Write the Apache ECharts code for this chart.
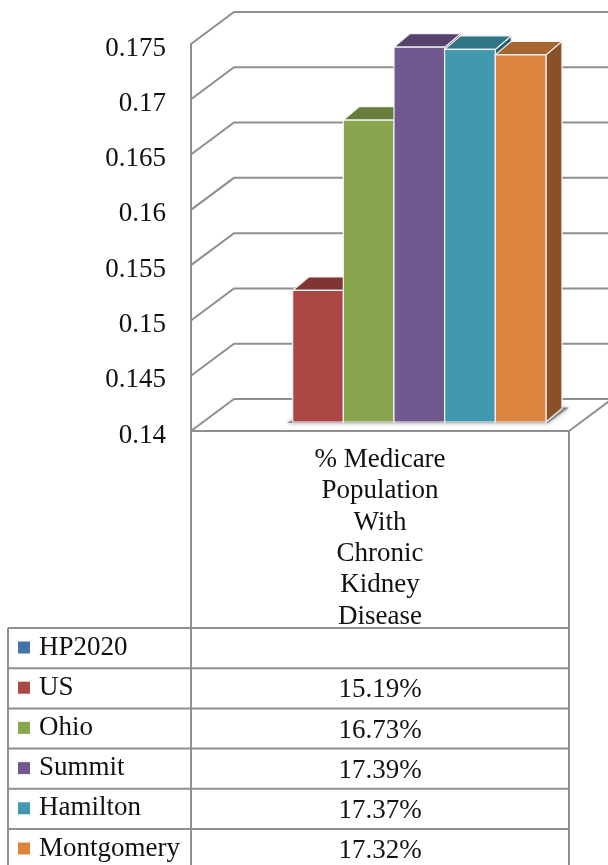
<!DOCTYPE html>
<html>
<head>
<meta charset="utf-8">
<style>
  html, body { margin: 0; padding: 0; background: #fff; }
  #chart { width: 608px; height: 865px; }
</style>
<script src="https://cdn.jsdelivr.net/npm/echarts@6/dist/echarts.min.js"></script>
</head>
<body>
<div id="chart"></div>
<script>
var category = '% Medicare\nPopulation\nWith\nChronic\nKidney\nDisease';
var seriesNames = ['HP2020', 'US', 'Ohio', 'Summit', 'Hamilton', 'Montgomery'];
var seriesValues = [null, 0.1519, 0.1673, 0.1739, 0.1737, 0.1732];
var seriesColors = ['#4572A7', '#AA4643', '#89A54E', '#71588F', '#4198AF', '#DB843D'];
var tableLabels = ['', '15.19%', '16.73%', '17.39%', '17.37%', '17.32%'];
var yTicks = [0.14, 0.145, 0.15, 0.155, 0.16, 0.165, 0.17, 0.175];

var FONT = '"Liberation Serif", serif';
var LINE = '#8f8f8f';

// plot frame
var plotLeft = 191, plotRight = 569, plotTop = 44, floorY = 431;
// pseudo 3d depth
var wallDx = 43, wallDy = -32;
var barDx = 14, barDy = -9, depthDx = 16, depthDy = -13.5;

// table
var tableLeft = 8, rowTop = 628, rowH = 40.2;

var chart = echarts.init(document.getElementById('chart'));

// darker tone of a colour for the side faces
function shade(color, k) {
    var c = echarts.color.parse(color);
    return 'rgb(' + Math.round(c[0] * k) + ',' + Math.round(c[1] * k) + ',' + Math.round(c[2] * k) + ')';
}

function renderWall(params, api) {
    var p = api.coord([0, api.value(0)]);
    var y = p[1];
    return {
        type: 'polyline',
        shape: { points: [[plotLeft, y], [plotLeft + wallDx, y + wallDy], [plotRight + wallDx, y + wallDy]] },
        style: { fill: null, stroke: LINE, lineWidth: 2 },
        silent: true
    };
}

function renderFloor(params, api) {
    return {
        type: 'line',
        shape: { x1: plotRight, y1: floorY, x2: plotRight + wallDx, y2: floorY + wallDy },
        style: { stroke: LINE, lineWidth: 2 },
        silent: true
    };
}

function renderShadow(params, api) {
    var c = api.coord([0, yTicks[0]]);
    var slot = api.size([1, 0])[0] * 0.134;
    var x0 = c[0] + barDx - slot * 3 + slot;
    var x1 = c[0] + barDx + slot * 3;
    var y = c[1] + barDy;
    return {
        type: 'polygon',
        shape: { points: [[x0 - 6, y + 1], [x1 + 2, y + 1], [x1 + depthDx + 7, y + depthDy - 1], [x1 + depthDx, y + depthDy - 1], [x0, y - 2]] },
        style: { fill: '#8a8a8a', shadowBlur: 4, shadowColor: 'rgba(0,0,0,0.4)' },
        silent: true
    };
}

function renderBar(params, api) {
    var idx = params.seriesIndex - 3;
    var base = api.coord([0, yTicks[0]]);
    var topPt = api.coord([0, api.value(1)]);
    var slot = api.size([1, 0])[0] * 0.134;
    var x0 = base[0] + barDx + (idx - 3) * slot;
    var x1 = x0 + slot;
    var yb = base[1] + barDy;
    var yt = topPt[1] + barDy;
    var color = seriesColors[idx];
    var edge = { stroke: '#f4f1f6', lineWidth: 1.2 };
    return {
        type: 'group',
        children: [
            {
                type: 'polygon',
                shape: { points: [[x1, yb], [x1 + depthDx, yb + depthDy], [x1 + depthDx, yt + depthDy], [x1, yt]] },
                style: Object.assign({ fill: shade(color, 0.62) }, edge)
            },
            {
                type: 'polygon',
                shape: { points: [[x0, yt], [x1, yt], [x1 + depthDx, yt + depthDy], [x0 + depthDx, yt + depthDy]] },
                style: Object.assign({ fill: shade(color, 0.76) }, edge)
            },
            {
                type: 'rect',
                shape: { x: x0, y: yt, width: slot, height: yb - yt },
                style: Object.assign({ fill: color }, edge)
            }
        ]
    };
}

function tableGraphics() {
    var out = [];
    var bottom = 880;
    function line(x1, y1, x2, y2) {
        out.push({
            type: 'line',
            shape: { x1: x1, y1: y1, x2: x2, y2: y2 },
            style: { stroke: LINE, lineWidth: 2 },
            silent: true
        });
    }
    line(plotLeft, floorY, plotLeft, bottom);
    line(plotRight, floorY, plotRight, bottom);
    line(tableLeft, rowTop, tableLeft, bottom);
    seriesNames.forEach(function (name, i) {
        var y = rowTop + i * rowH;
        line(tableLeft, y, plotRight, y);
        out.push({
            type: 'text',
            x: (plotLeft + plotRight) / 2,
            y: y + rowH / 2 + 2,
            style: {
                text: tableLabels[i],
                font: '27px ' + FONT,
                fill: '#111',
                align: 'center',
                verticalAlign: 'middle'
            },
            silent: true
        });
    });
    return out;
}

var barSeries = seriesNames.map(function (name, i) {
    return {
        name: name,
        type: 'custom',
        renderItem: renderBar,
        encode: { x: 0, y: 1 },
        itemStyle: { color: seriesColors[i] },
        data: seriesValues[i] === null ? [] : [[0, seriesValues[i]]],
        z: 4
    };
});

var option = {
    animation: false,
    backgroundColor: '#fff',
    textStyle: { fontFamily: FONT },
    grid: { left: plotLeft, top: plotTop, width: plotRight - plotLeft, height: floorY - plotTop },
    legend: {
        data: seriesNames,
        orient: 'vertical',
        left: 18,
        top: rowTop + 6,
        height: 260,
        padding: 0,
        itemWidth: 12,
        itemHeight: 12,
        itemGap: 13.2,
        icon: 'rect',
        selectedMode: false,
        textStyle: { fontFamily: FONT, fontSize: 27, color: '#111', padding: [0, 0, 0, 4] }
    },
    xAxis: {
        type: 'category',
        data: [category],
        axisLine: { show: true, onZero: false, lineStyle: { color: LINE, width: 2 } },
        axisTick: { show: false },
        splitLine: { show: false },
        axisLabel: { interval: 0, margin: 13, color: '#111', fontFamily: FONT, fontSize: 27, lineHeight: 31.4 }
    },
    yAxis: {
        type: 'value',
        min: 0.14,
        max: 0.175,
        interval: 0.005,
        axisLine: { show: true, lineStyle: { color: LINE, width: 2 } },
        axisTick: { show: false },
        splitLine: { show: false },
        axisLabel: { margin: 25, color: '#111', fontFamily: FONT, fontSize: 27, verticalAlign: 'top', lineHeight: 9 }
    },
    graphic: tableGraphics(),
    series: [
        {
            name: 'walls',
            type: 'custom',
            renderItem: renderWall,
            encode: { y: 0 },
            data: yTicks.map(function (t) { return [t]; }),
            z: 1
        },
        {
            name: 'floor',
            type: 'custom',
            renderItem: renderFloor,
            data: [[0]],
            z: 1
        },
        {
            name: 'shadow',
            type: 'custom',
            renderItem: renderShadow,
            data: [[0]],
            z: 2
        }
    ].concat(barSeries)
};

chart.setOption(option);
</script>
</body>
</html>
